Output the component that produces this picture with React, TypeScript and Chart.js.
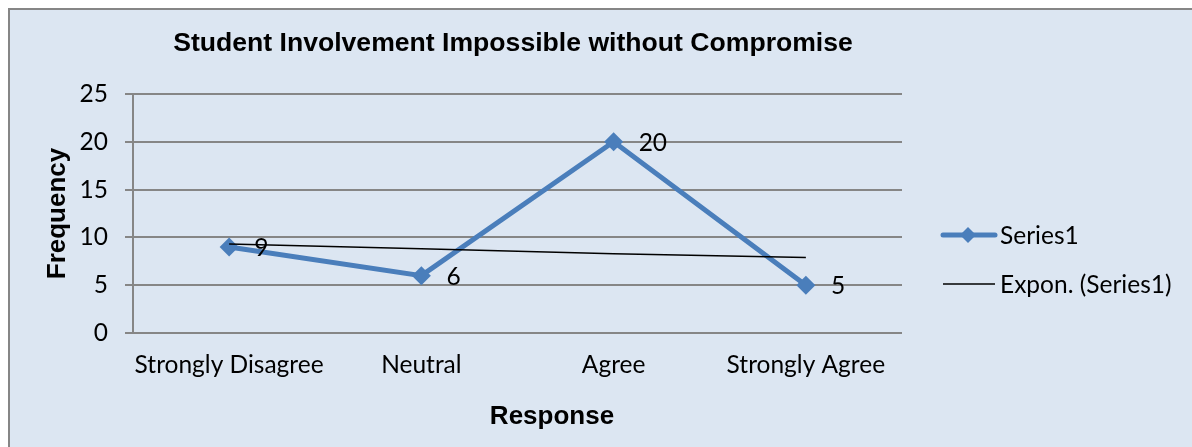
import { useEffect, useRef } from 'react';
import { Chart, registerables } from 'chart.js';

Chart.register(...registerables);

const categories = ['Strongly Disagree', 'Neutral', 'Agree', 'Strongly Agree'];
const frequencies = [9, 6, 20, 5];
const trendValues = [9.3, 8.8, 8.3, 7.9];
const yTickMin = 0;
const yTickMax = 25;
const yTickStep = 5;
const chartTitle = 'Student Involvement Impossible without Compromise';
const xAxisTitle = 'Response';
const yAxisTitle = 'Frequency';
const seriesName = 'Series1';
const trendName = 'Expon. (Series1)';

const BG = '#dce6f2';
const GRID = '#868686';
const BLUE = '#4a7ebb';
const TICK_FONT = 'Lato';
const TICK_SIZE = 24.5;
const TITLE_FONT = '"Liberation Sans", Arial, sans-serif';

const W = 1192;
const H = 447;

const decorPlugin = {
  id: 'decor',
  beforeDraw(chart: any) {
    const ctx = chart.ctx;
    ctx.save();
    ctx.fillStyle = '#ffffff';
    ctx.fillRect(0, 0, W, H);
    ctx.fillStyle = BG;
    ctx.fillRect(9, 9, W - 9, H - 9);
    ctx.strokeStyle = GRID;
    ctx.lineWidth = 2;
    ctx.beginPath();
    ctx.moveTo(9, H);
    ctx.lineTo(9, 9);
    ctx.lineTo(W, 9);
    ctx.stroke();
    ctx.restore();
  },
  afterDatasetsDraw(chart: any) {
    const ctx = chart.ctx;
    const meta = chart.getDatasetMeta(0);
    ctx.save();
    ctx.fillStyle = '#000';
    ctx.font = `${TICK_SIZE}px ${TICK_FONT}`;
    ctx.textAlign = 'left';
    ctx.textBaseline = 'middle';
    meta.data.forEach((pt: any, i: number) => {
      ctx.fillText(String(frequencies[i]), pt.x + 25, pt.y + 1);
    });
    ctx.restore();
  },
  afterDraw(chart: any) {
    const ctx = chart.ctx;
    const area = chart.chartArea;
    ctx.save();
    ctx.fillStyle = '#000';
    // chart title
    ctx.font = `bold 26.6px ${TITLE_FONT}`;
    ctx.textAlign = 'center';
    ctx.textBaseline = 'middle';
    ctx.fillText(chartTitle, 513, 44);
    // axis titles
    ctx.font = `bold 26px ${TITLE_FONT}`;
    ctx.fillText(xAxisTitle, 552, 417);
    ctx.save();
    ctx.translate(58, (area.top + area.bottom) / 2);
    ctx.rotate(-Math.PI / 2);
    ctx.fillText(yAxisTitle, 0, 0);
    ctx.restore();
    // legend
    ctx.font = `${TICK_SIZE}px ${TICK_FONT}`;
    ctx.textAlign = 'left';
    ctx.textBaseline = 'middle';
    ctx.strokeStyle = BLUE;
    ctx.lineWidth = 5;
    ctx.lineCap = 'round';
    ctx.beginPath();
    ctx.moveTo(943, 235);
    ctx.lineTo(995, 235);
    ctx.stroke();
    ctx.fillStyle = BLUE;
    ctx.beginPath();
    ctx.moveTo(968 - 8, 235);
    ctx.lineTo(968, 235 - 8);
    ctx.lineTo(968 + 8, 235);
    ctx.lineTo(968, 235 + 8);
    ctx.closePath();
    ctx.fill();
    ctx.fillStyle = '#000';
    ctx.fillText(seriesName, 1000, 236);
    ctx.strokeStyle = '#000';
    ctx.lineWidth = 1.5;
    ctx.lineCap = 'butt';
    ctx.beginPath();
    ctx.moveTo(943, 284);
    ctx.lineTo(995, 284);
    ctx.stroke();
    ctx.fillText(trendName, 1000, 285);
    ctx.restore();
  },
};

export default function App() {
  const canvasRef = useRef<HTMLCanvasElement | null>(null);

  useEffect(() => {
    document.body.style.margin = '0';
    const canvas = canvasRef.current;
    if (!canvas) return;
    const chart = new Chart(canvas, {
      type: 'line',
      data: {
        labels: categories,
        datasets: [
          {
            label: seriesName,
            data: frequencies,
            borderColor: BLUE,
            backgroundColor: BLUE,
            borderWidth: 5,
            pointStyle: 'rectRot',
            pointRadius: 9.5,
            pointHoverRadius: 9.5,
            pointBorderWidth: 0,
            tension: 0,
            order: 1,
          },
          {
            label: trendName,
            data: trendValues,
            borderColor: '#000000',
            borderWidth: 1.5,
            pointRadius: 0,
            tension: 0,
            order: 0,
          },
        ],
      },
      options: {
        responsive: false,
        animation: false,
        devicePixelRatio: 1,
        layout: { padding: { left: 0, top: 94, right: 290, bottom: 0 } },
        plugins: {
          legend: { display: false },
          title: { display: false },
          tooltip: { enabled: false },
        },
        scales: {
          x: {
            type: 'category',
            offset: true,
            grid: { display: false, drawTicks: false },
            border: { display: false },
            ticks: {
              color: '#000',
              font: { family: TICK_FONT, size: TICK_SIZE },
              padding: 17,
              maxRotation: 0,
              autoSkip: false,
            },
            afterFit(scale: any) {
              scale.height = 114;
            },
          },
          y: {
            min: yTickMin,
            max: yTickMax,
            ticks: {
              stepSize: yTickStep,
              color: '#000',
              font: { family: TICK_FONT, size: TICK_SIZE },
              padding: 17,
            },
            grid: { color: GRID, lineWidth: 2, tickLength: 8 },
            border: { color: GRID, width: 2 },
            afterFit(scale: any) {
              scale.width = 133;
            },
          },
        },
      },
      plugins: [decorPlugin],
    });
    return () => chart.destroy();
  }, []);

  return (
    <div style={{ width: W, height: H }}>
      <canvas ref={canvasRef} width={W} height={H} style={{ display: 'block', width: W, height: H }} />
    </div>
  );
}
